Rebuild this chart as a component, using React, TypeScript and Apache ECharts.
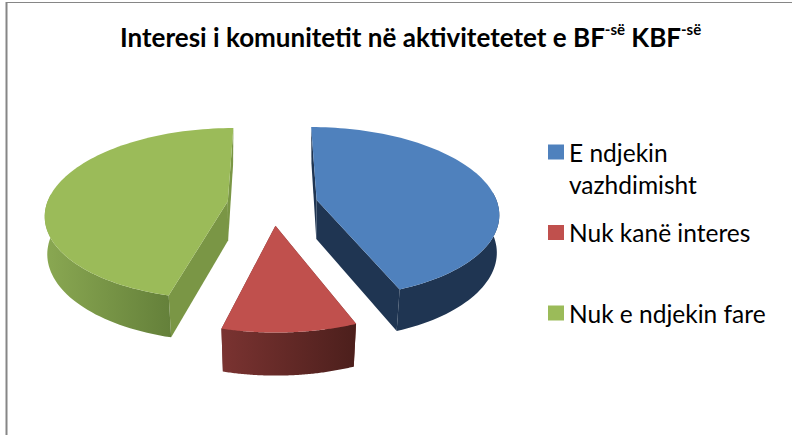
import React, { useEffect, useRef } from "react";
import * as echarts from "echarts";

const categories = ["E ndjekin vazhdimisht", "Nuk kanë interes", "Nuk e ndjekin fare"];
const legendLabels = [" \nE ndjekin\nvazhdimisht", "Nuk kanë interes", "Nuk e ndjekin fare"];
const values = [44, 10, 46];
const topColors = ["#4f81bd", "#c0504d", "#9bbb59"];
const sideColors = ["#1f3552", "#6e2f2d", "#7a9645"];
const wallFrom = ["#1f3552", "#7a3331", "#8aa852"];
const wallTo = ["#1f3552", "#4c1f1c", "#64803a"];
const legendTops = [104, 216.5, 297];

const FONT = "Lato";
const CX = 272.5, CY = 204, RX = 181, RY = 84.5, PERSP = 0.143, EXPLODE = 0.25, DEPTH = 39;

const total = values.reduce((a, b) => a + b, 0);
const starts = values.map((_, i) => (values.slice(0, i).reduce((a, b) => a + b, 0) / total) * 360);
const toRad = (d: number) => (d * Math.PI) / 180;

function makeRenderItem(i: number) {
  const a0 = starts[i];
  const a1 = a0 + (values[i] / total) * 360;
  const mid = toRad((a0 + a1) / 2);
  const ox = EXPLODE * Math.sin(mid), oy = EXPLODE * Math.cos(mid);
  const project = (X: number, V: number, down: boolean) => {
    const s = 1 / (1 + PERSP * V);
    const converge = down ? 0.991 + 0.016 * V : 1;
    return [CX + RX * X * s * converge, CY - RY * V * s + (down ? DEPTH * Math.sqrt(s) : 0)];
  };
  const rim = (a: number, down: boolean) => project(ox + Math.sin(toRad(a)), oy + Math.cos(toRad(a)), down);
  const apex = (down: boolean) => project(ox, oy, down);
  const arcAngles: number[] = [];
  for (let k = 0; k <= 90; k++) arcAngles.push(a0 + ((a1 - a0) * k) / 90);
  const front = arcAngles.filter((a) => Math.cos(toRad(a)) < 0.1);
  return () => {
    const children: any[] = [
      {
        type: "polygon",
        shape: { points: [apex(false), rim(a0, false), rim(a0, true), apex(true)] },
        style: { fill: sideColors[i] },
      },
      {
        type: "polygon",
        shape: { points: [apex(false), rim(a1, false), rim(a1, true), apex(true)] },
        style: { fill: sideColors[i] },
      },
    ];
    if (front.length > 1) {
      children.push({
        type: "polygon",
        shape: {
          points: [...front.map((a) => rim(a, false)), ...front.slice().reverse().map((a) => rim(a, true))],
        },
        style: {
          fill: new echarts.graphic.LinearGradient(0, 0, 1, 0, [
            { offset: 0, color: wallFrom[i] },
            { offset: 1, color: wallTo[i] },
          ]),
        },
      });
    }
    children.push({
      type: "polygon",
      shape: { points: [apex(false), ...arcAngles.map((a) => rim(a, false))] },
      style: { fill: topColors[i] },
    });
    return { type: "group", children };
  };
}

export default function App() {
  const ref = useRef<HTMLDivElement>(null);
  useEffect(() => {
    document.body.style.margin = "0";
    const chart = echarts.init(ref.current!, undefined, { renderer: "svg" });
    chart.setOption({
      animation: false,
      backgroundColor: "#ffffff",
      title: {
        left: 115,
        top: 16,
        text: "{m|Interesi i komunitetit në aktivitetetet e BF}{s|-së}{m| KBF}{s|-së}",
        textStyle: {
          rich: {
            m: { fontFamily: FONT, fontSize: 26, fontWeight: "bold", color: "#000", lineHeight: 32 },
            s: { fontFamily: FONT, fontSize: 15, fontWeight: "bold", color: "#000", verticalAlign: "top", lineHeight: 22 },
          },
        },
      },
      legend: categories.map((c, i) => ({
        data: [c],
        left: 548,
        top: legendTops[i],
        padding: 0,
        icon: "rect",
        itemWidth: 16,
        itemHeight: 15,
        itemGap: 0,
        selectedMode: false,
        formatter: () => legendLabels[i],
        textStyle: {
          fontFamily: FONT,
          fontSize: 24.5,
          color: "#000",
          lineHeight: 32,
        },
      })),
      graphic: [
        { type: "line", silent: true, shape: { x1: 6.5, y1: 2, x2: 6.5, y2: 435 }, style: { stroke: "#868686", lineWidth: 2 } },
        { type: "line", silent: true, shape: { x1: 6, y1: 2.5, x2: 792, y2: 2.5 }, style: { stroke: "#868686", lineWidth: 1 } },
      ],
      series: categories.map((c, i) => ({
        type: "custom",
        name: c,
        coordinateSystem: "none",
        itemStyle: { color: topColors[i] },
        renderItem: makeRenderItem(i),
        data: [[values[i]]],
        silent: true,
      })),
    });
    return () => chart.dispose();
  }, []);
  return <div ref={ref} style={{ position: "absolute", left: 0, top: 0, width: 792, height: 435 }} />;
}
